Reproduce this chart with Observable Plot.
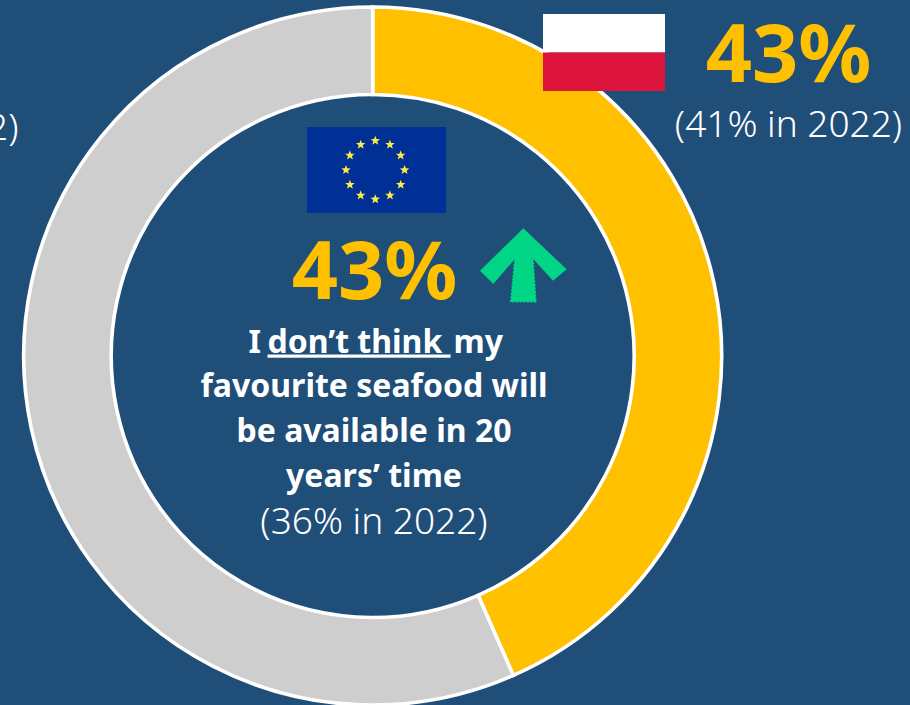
<!DOCTYPE html>
<html>
<head>
<meta charset="utf-8">
<script src="https://cdn.jsdelivr.net/npm/d3@7"></script>
<script src="https://cdn.jsdelivr.net/npm/@observablehq/plot@0.6"></script>
<style>
html,body{margin:0;padding:0;background:#1F4E79;overflow:hidden}
#stage{position:relative;width:910px;height:705px;overflow:hidden}
#stage svg{position:absolute;left:0;top:0;display:block}
.underlined text{text-decoration:underline;text-decoration-thickness:2.5px;text-underline-offset:3px;white-space:pre}
</style>
</head>
<body>
<div id="stage"></div>
<script>
const categories = ["I don't think", "Other"];
const shares = [43.4, 56.6];
const colors = ["#FFC000", "#CECECE"];
const headlineEU = "43%";
const headlinePL = "43%";
const comparePL = "(41% in 2022)";
const compareEU = "(36% in 2022)";
const clippedLeft = "2)";
const statementLines = ["favourite seafood will", "be available in 20", "years’ time"];

const FONT = "'Noto Sans', 'Open Sans', sans-serif";
const cx = 372.7, cy = 356, outerR = 349, innerR = 261.5;

let cum = 0;
const slices = categories.map((c, i) => {
  const s = {category: c, start: cum, end: cum + shares[i], color: colors[i]};
  cum += shares[i];
  return s;
});

function donut(index, scales, values) {
  const arc = d3.arc().innerRadius(innerR).outerRadius(outerR);
  const g = d3.create("svg:g").attr("transform", `translate(${cx},${cy})`);
  for (const i of index) {
    g.append("path")
      .attr("d", arc({startAngle: values.x1[i], endAngle: values.x2[i]}))
      .attr("fill", slices[i].color)
      .attr("stroke", "#FFFFFF")
      .attr("stroke-width", 3.6)
      .append("title").text(`${slices[i].category}: ${shares[i]}%`);
  }
  return g.node();
}

function label(text, x, baseline, size, weight, fill = "#FFFFFF", extra = {}) {
  return Plot.text([text], {
    frameAnchor: "top-left",
    dx: x,
    dy: baseline - 0.32 * size,
    lineAnchor: "middle",
    text: d => d,
    fontSize: size,
    fontWeight: weight,
    fontFamily: FONT,
    fill,
    textAnchor: "middle",
    ...extra
  });
}

const plot = Plot.plot({
  width: 910,
  height: 705,
  margin: 0,
  style: {background: "#1F4E79", fontFamily: FONT},
  x: {domain: [0, 100], range: [0, 2 * Math.PI], axis: null},
  marks: [
    Plot.barX(slices, {x1: "start", x2: "end", render: donut}),
    label(headlinePL, 788, 81, 81, 700, "#FFC000"),
    label(comparePL, 788, 136, 37, 300),
    label(headlineEU, 374, 298, 81, 700, "#FFC000"),
    label("I", 248, 352, 32, 700, "#FFFFFF", {textAnchor: "start"}),
    label("don’t think ", 267, 352, 32, 700, "#FFFFFF", {textAnchor: "start", className: "underlined"}),
    label("my", 453, 352, 32, 700, "#FFFFFF", {textAnchor: "start"}),
    label(statementLines[0], 373.5, 396, 32, 700),
    label(statementLines[1], 373.5, 441, 32, 700),
    label(statementLines[2], 373.5, 486, 32, 700),
    label(compareEU, 373.5, 533, 37, 300),
    label(clippedLeft, 18, 139, 37, 300, "#FFFFFF", {textAnchor: "end"})
  ]
});
document.getElementById("stage").appendChild(plot);

// decorations: flags and trend arrow
const deco = d3.create("svg").attr("width", 910).attr("height", 705);
deco.append("rect").attr("x", 307).attr("y", 127).attr("width", 139).attr("height", 86).attr("fill", "#002F96");
const starPath = (x, y, r) => d3.range(10).map(k => {
  const a = -Math.PI / 2 + k * Math.PI / 5, q = k % 2 ? r * 0.42 : r;
  return [x + q * Math.cos(a), y + q * Math.sin(a)].join(",");
}).join(" ");
d3.range(12).forEach(k => {
  const a = k * Math.PI / 6;
  deco.append("polygon").attr("points", starPath(375.3 + 29.3 * Math.sin(a), 170 - 29.3 * Math.cos(a), 5)).attr("fill", "#FFE94A");
});
deco.append("rect").attr("x", 543).attr("y", 14).attr("width", 122).attr("height", 38.5).attr("fill", "#FFFFFF");
deco.append("rect").attr("x", 543).attr("y", 52.5).attr("width", 122).attr("height", 38.5).attr("fill", "#DC143C");
deco.append("polygon").attr("points", "523.3,228.3 566.7,269.3 553,280.7 532.3,258 515.7,258 493.3,284 480,270.7").attr("fill", "#00D686");
deco.append("polygon").attr("points", "515.7,250 532.3,250 536,301.7 510.7,301.7").attr("fill", "#00D686")
  .attr("stroke", "#00D686").attr("stroke-width", 1.4).attr("stroke-dasharray", "2 1.6");
document.getElementById("stage").appendChild(deco.node());
</script>
</body>
</html>
